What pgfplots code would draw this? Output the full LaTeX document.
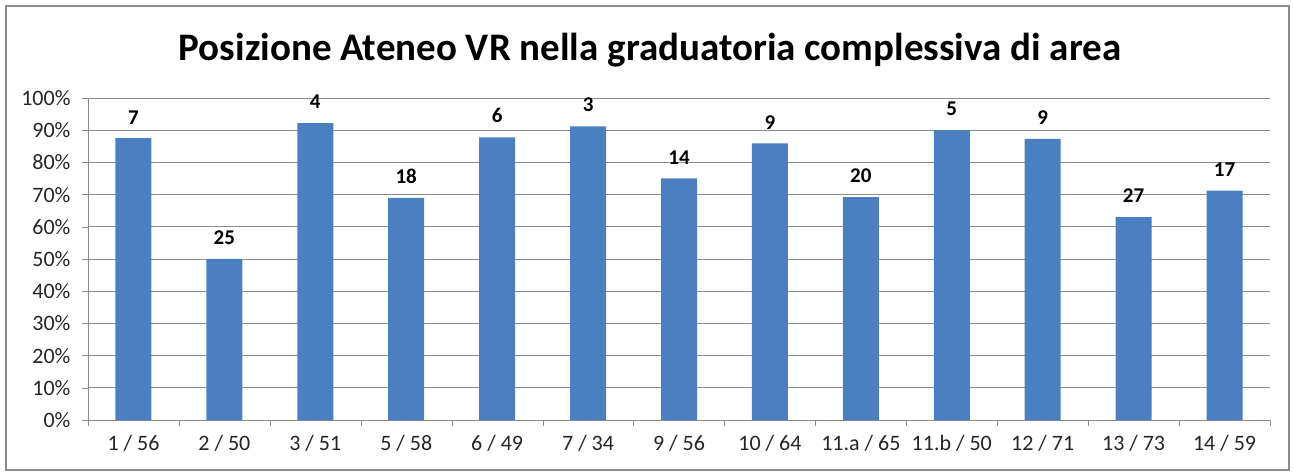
\documentclass[border=0pt]{standalone}
\usepackage{fontspec}
\setmainfont{Carlito}
\usepackage{pgfplots}
\pgfplotsset{compat=1.18}

\begin{document}
\begin{tikzpicture}

\definecolor{barblue}{RGB}{74,128,194}
\definecolor{gridgray}{RGB}{140,140,140}

% page and frame
\path[fill=white] (0pt,0pt) rectangle (1294pt,473pt);
\draw[black!45, line width=1.5pt] (6pt,3pt) rectangle (1289pt,467pt);

% title
\node[font=\fontsize{39}{46}\selectfont\bfseries] at (650pt,423pt)
    {Posizione Ateneo VR nella graduatoria complessiva di area};

\begin{axis}[
    at={(88pt,53pt)}, anchor=south west,
    width=1182pt, height=322pt, scale only axis,
    xmin=-0.5, xmax=12.5,
    ymin=0, ymax=100,
    ybar, bar width=36pt,
    axis line style={gridgray},
    axis x line*=bottom, axis y line*=left,
    tick label style={font=\fontsize{22}{26}\selectfont, text=black!85},
    xtick={0,...,12},
    xticklabels={1 / 56, 2 / 50, 3 / 51, 5 / 58, 6 / 49, 7 / 34, 9 / 56,
                 10 / 64, 11.a / 65, 11.b / 50, 12 / 71, 13 / 73, 14 / 59},
    major x tick style={draw=none},
    minor xtick={-0.5,0.5,...,12.5},
    minor x tick style={gridgray},
    minor tick length=6pt,
    tick align=outside,
    xticklabel style={yshift=-6pt},
    ytick={0,10,...,100},
    yticklabels={0\%,10\%,20\%,30\%,40\%,50\%,60\%,70\%,80\%,90\%,100\%},
    yticklabel style={xshift=-8pt},
    major y tick style={gridgray},
    major tick length=6pt,
    ymajorgrids,
    grid style={gridgray, line width=0.8pt},
    point meta=explicit symbolic,
    nodes near coords,
    every node near coord/.append style={
        font=\fontsize{21}{24}\selectfont\bfseries, inner sep=0pt, yshift=14pt,
        anchor=south, text=black},
]

\addplot[fill=barblue, draw=none] coordinates {
    (0, 87.5) [7]
    (1, 50.0) [25]
    (2, 92.2) [4]
    (3, 69.0) [18]
    (4, 87.8) [6]
    (5, 91.2) [3]
    (6, 75.0) [14]
    (7, 85.9) [9]
    (8, 69.2) [20]
    (9, 90.0) [5]
    (10, 87.3) [9]
    (11, 63.0) [27]
    (12, 71.2) [17]
};

\end{axis}
\end{tikzpicture}
\end{document}
